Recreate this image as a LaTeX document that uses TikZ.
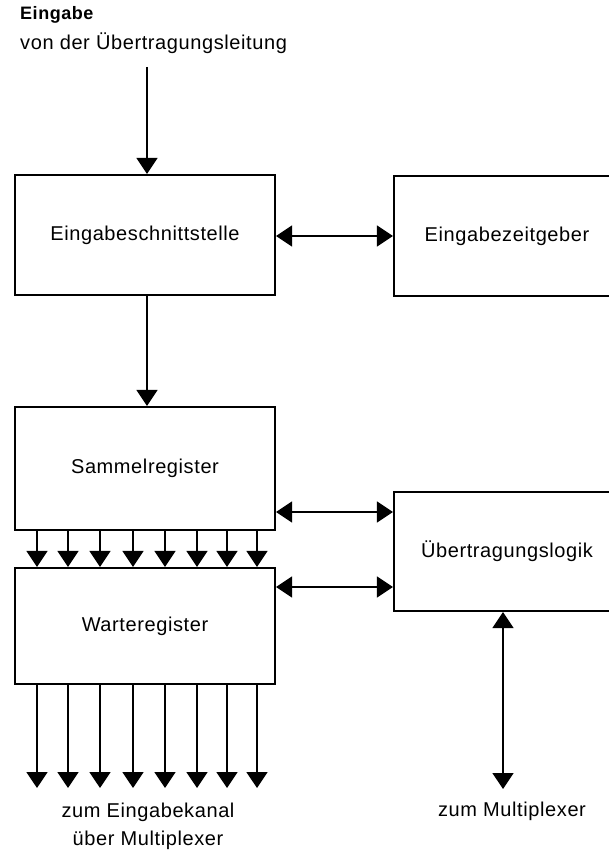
\documentclass[tikz,border=0pt]{standalone}
\usepackage{fontspec}
\setmainfont{Liberation Sans}[LetterSpace=3]
\usetikzlibrary{arrows.meta}
\tikzset{
  box/.style={draw, line width=2.1pt, inner sep=0pt, font=\fontsize{20}{24}\selectfont},
  arr/.style={line width=1.5pt, -{Triangle[width=21pt,length=16pt]}},
  darr/.style={line width=1.5pt, {Triangle[width=21pt,length=16pt]}-{Triangle[width=21pt,length=16pt]}},
  lbl/.style={inner sep=0pt, font=\fontsize{20}{28}\selectfont, align=center}
}
\begin{document}
\begin{tikzpicture}[x=1pt,y=-1pt]
\useasboundingbox[fill=white] (0,0) rectangle (608,850);
% boxes
\node[box, minimum width=260pt, minimum height=120pt] (ein) at (145,235) {Eingabeschnittstelle};
\node[box, minimum width=226pt, minimum height=120pt] (zeit) at (507,236) {Eingabezeitgeber};
\node[box, minimum width=260pt, minimum height=123pt] (sam) at (145,468.5) {Sammelregister};
\node[box, minimum width=226pt, minimum height=119pt] (uel) at (507,551.5) {Übertragungslogik};
\node[box, minimum width=260pt, minimum height=116pt] (war) at (145,626) {Warteregister};
% labels
\node[lbl, anchor=west, font=\fontsize{18}{22}\selectfont\bfseries] (t1) at (20,15) {Eingabe};
\node[lbl, anchor=west] (t2) at (20,43) {von der Übertragungsleitung};
\node[lbl] (t3) at (148,826) {zum Eingabekanal\\über Multiplexer};
\node[lbl] (t4) at (512,811) {zum Multiplexer};
% coordinates
\coordinate (in) at (147,67);
\coordinate (c1) at (0,512);
\coordinate (c2) at (0,587);
\coordinate (ee) at (0,788);
\coordinate (m) at (503,789);
% connectors
\draw[arr] (in) -- (in |- ein.north);
\draw[arr] (ein.south -| in) -- (sam.north -| in);
\draw[darr] (ein.east |- zeit.west) -- (zeit.west);
\draw[darr] (sam.east |- c1) -- (uel.west |- c1);
\draw[darr] (war.east |- c2) -- (uel.west |- c2);
\draw[darr] (uel.south -| m) -- (m);
\foreach \x [count=\i] in {37,68,100,133,165,197,227,257}{
  \coordinate (b\i) at (\x,0);
  \draw[arr] (sam.south -| b\i) -- (war.north -| b\i);
  \draw[arr] (war.south -| b\i) -- (b\i |- ee);
}
\end{tikzpicture}
\end{document}
